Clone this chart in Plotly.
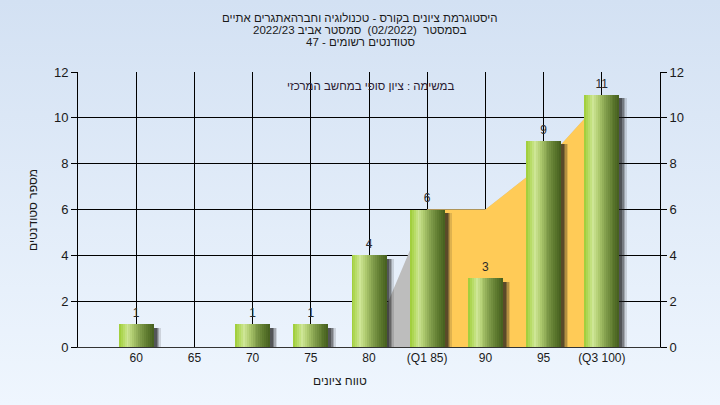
import base64
import plotly.graph_objects as go

# ---------------- data ----------------
categories = ["60", "65", "70", "75", "80", "(Q1 85)", "90", "95", "(Q3 100)"]
counts = [1, 0, 1, 1, 4, 6, 3, 9, 11]
area_vals = [0, 0, 0, 0, 0, 6, 6, 8, 10.8]
iqr_cats = categories[5:]
iqr_vals = area_vals[5:]
y_ticks = [0, 2, 4, 6, 8, 10, 12]

title_lines = [
    "היסטוגרמת ציונים בקורס - טכנולוגיה וחברהאתגרים אתיים",
    "בסמסטר\u00a0\u00a0(02/2022)\u00a0\u00a0סמסטר אביב 2022/23",
    "סטודנטים רשומים - 47",
]
note_text = "במשימה : ציון סופי במחשב המרכזי"
x_title = "טווח ציונים"
y_title = "מספר סטודנטים"

# ---------------- styling ----------------
W, H = 720, 405
L, R, T, B = 78, 60, 72, 58
PW, PH = W - L - R, H - T - B
FONT = "Liberation Sans, Arial, sans-serif"
BAR_W = 0.6

grad = [
    (0.00, (156, 204, 52)),
    (0.12, (180, 218, 96)),
    (0.25, (206, 230, 150)),
    (0.40, (176, 204, 112)),
    (0.60, (130, 158, 76)),
    (0.80, (96, 124, 48)),
    (1.00, (68, 94, 30)),
]


def grad_color(t):
    for (p0, c0), (p1, c1) in zip(grad[:-1], grad[1:]):
        if p0 <= t <= p1:
            f = (t - p0) / (p1 - p0)
            c = [round(a + (b - a) * f) for a, b in zip(c0, c1)]
            return "rgb(%d,%d,%d)" % tuple(c)
    return "rgb(%d,%d,%d)" % grad[-1][1]


fig = go.Figure()

# areas (lighter gray full area, orange inter-quartile area) on the base subplot
fig.add_trace(go.Scatter(x=categories, y=area_vals, mode="lines", line=dict(width=0),
                         fill="tozeroy", fillcolor="#bdbdbd", hoverinfo="skip", showlegend=False))
fig.add_trace(go.Scatter(x=iqr_cats, y=iqr_vals, mode="lines", line=dict(width=0),
                         fill="tozeroy", fillcolor="#ffcb57", hoverinfo="skip", showlegend=False))

# soft shadows (overlay subplot, drawn above the areas)
shadow_y = [v - 0.15 if v > 0 else 0 for v in counts]
for extra, op in [(0.125, 0.14), (0.10, 0.22), (0.075, 0.3), (0.05, 0.4)]:
    fig.add_trace(go.Bar(x=categories, y=shadow_y, width=BAR_W, offset=-BAR_W / 2 + extra,
                         yaxis="y2",
                         marker=dict(color="rgba(25,25,25,%.2f)" % op, line=dict(width=0)),
                         hoverinfo="skip", showlegend=False))

# gradient bars built from vertical slices
N = 18
for i in range(N):
    t = (i + 0.5) / N
    fig.add_trace(go.Bar(x=categories, y=counts, width=BAR_W / N + 0.004,
                         offset=-BAR_W / 2 + i * BAR_W / N, yaxis="y2",
                         marker=dict(color=grad_color(t), line=dict(width=0)),
                         hoverinfo="skip", showlegend=False))

# value labels
fig.add_trace(go.Scatter(x=[c for c, v in zip(categories, counts) if v > 0],
                         y=[v for v in counts if v > 0],
                         text=[str(v) for v in counts if v > 0],
                         mode="markers+text", textposition="top center", yaxis="y2",
                         marker=dict(size=5, opacity=0),
                         textfont=dict(family=FONT, size=12, color="#2a2a2a"),
                         hoverinfo="skip", showlegend=False))

# background gradient
svg = ('<svg xmlns="http://www.w3.org/2000/svg" width="720" height="405">'
       '<defs><linearGradient id="g" x1="0" y1="0" x2="0" y2="1">'
       '<stop offset="0" stop-color="#d3e1f3"/><stop offset="1" stop-color="#eff6fe"/>'
       '</linearGradient></defs><rect width="720" height="405" fill="url(#g)"/></svg>')
src = "data:image/svg+xml;base64," + base64.b64encode(svg.encode()).decode()

annotations = []
for yy, txt in zip([18, 30, 42], title_lines):
    annotations.append(dict(text=txt, xref="paper", yref="paper", x=(360 - L) / PW,
                            y=(T + PH - yy) / PH, xanchor="center", yanchor="middle",
                            showarrow=False, font=dict(family=FONT, size=11.5, color="#1a1a1a")))
annotations.append(dict(text=note_text, xref="paper", yref="paper", x=(370 - L) / PW,
                        y=(T + PH - 86) / PH, xanchor="center", yanchor="middle",
                        showarrow=False, font=dict(family=FONT, size=11.5, color="#2a1a30")))
annotations.append(dict(text=x_title, xref="paper", yref="paper", x=(340 - L) / PW,
                        y=(T + PH - 381) / PH, xanchor="center", yanchor="middle",
                        showarrow=False, font=dict(family=FONT, size=12, color="#1a1a1a")))
annotations.append(dict(text=y_title, xref="paper", yref="paper", x=(33 - L) / PW,
                        y=(T + PH - 210) / PH, xanchor="center", yanchor="middle", textangle=-90,
                        showarrow=False, font=dict(family=FONT, size=12, color="#1a1a1a")))

fig.update_layout(
    width=W, height=H,
    margin=dict(l=L, r=R, t=T, b=B, pad=0),
    paper_bgcolor="#e2ecf8",
    plot_bgcolor="#b0b0b0",
    barmode="overlay",
    bargap=0,
    showlegend=False,
    font=dict(family=FONT, size=12, color="#1a1a1a"),
    images=[dict(source=src, xref="paper", yref="paper", x=-L / PW, y=(T + PH) / PH,
                 sizex=W / PW, sizey=H / PH, sizing="stretch", xanchor="left", yanchor="top",
                 layer="below")],
    annotations=annotations,
    xaxis=dict(type="category", categoryorder="array", categoryarray=categories,
               range=[-1, 9], showgrid=True, gridcolor="#000000", gridwidth=1,
               showline=True, linecolor="#333333", linewidth=1, zeroline=False,
               ticks="", tickfont=dict(family=FONT, size=12, color="#1a1a1a")),
    yaxis=dict(range=[0, 12], tickvals=y_ticks, showgrid=True, gridcolor="#000000", gridwidth=1,
               showline=True, linecolor="#000000", linewidth=1, zeroline=False,
               ticks="outside", ticklen=6, tickcolor="#000000",
               tickfont=dict(family=FONT, size=13, color="#1a1a1a")),
    yaxis2=dict(range=[0, 12], tickvals=y_ticks, overlaying="y", side="right", showgrid=False,
                showline=True, linecolor="#000000", linewidth=1, zeroline=False,
                ticks="outside", ticklen=6, tickcolor="#000000",
                tickfont=dict(family=FONT, size=13, color="#1a1a1a")),
)

fig.write_html("out.html", config={"displayModeBar": False},
               post_script="document.body.style.margin='0';")
